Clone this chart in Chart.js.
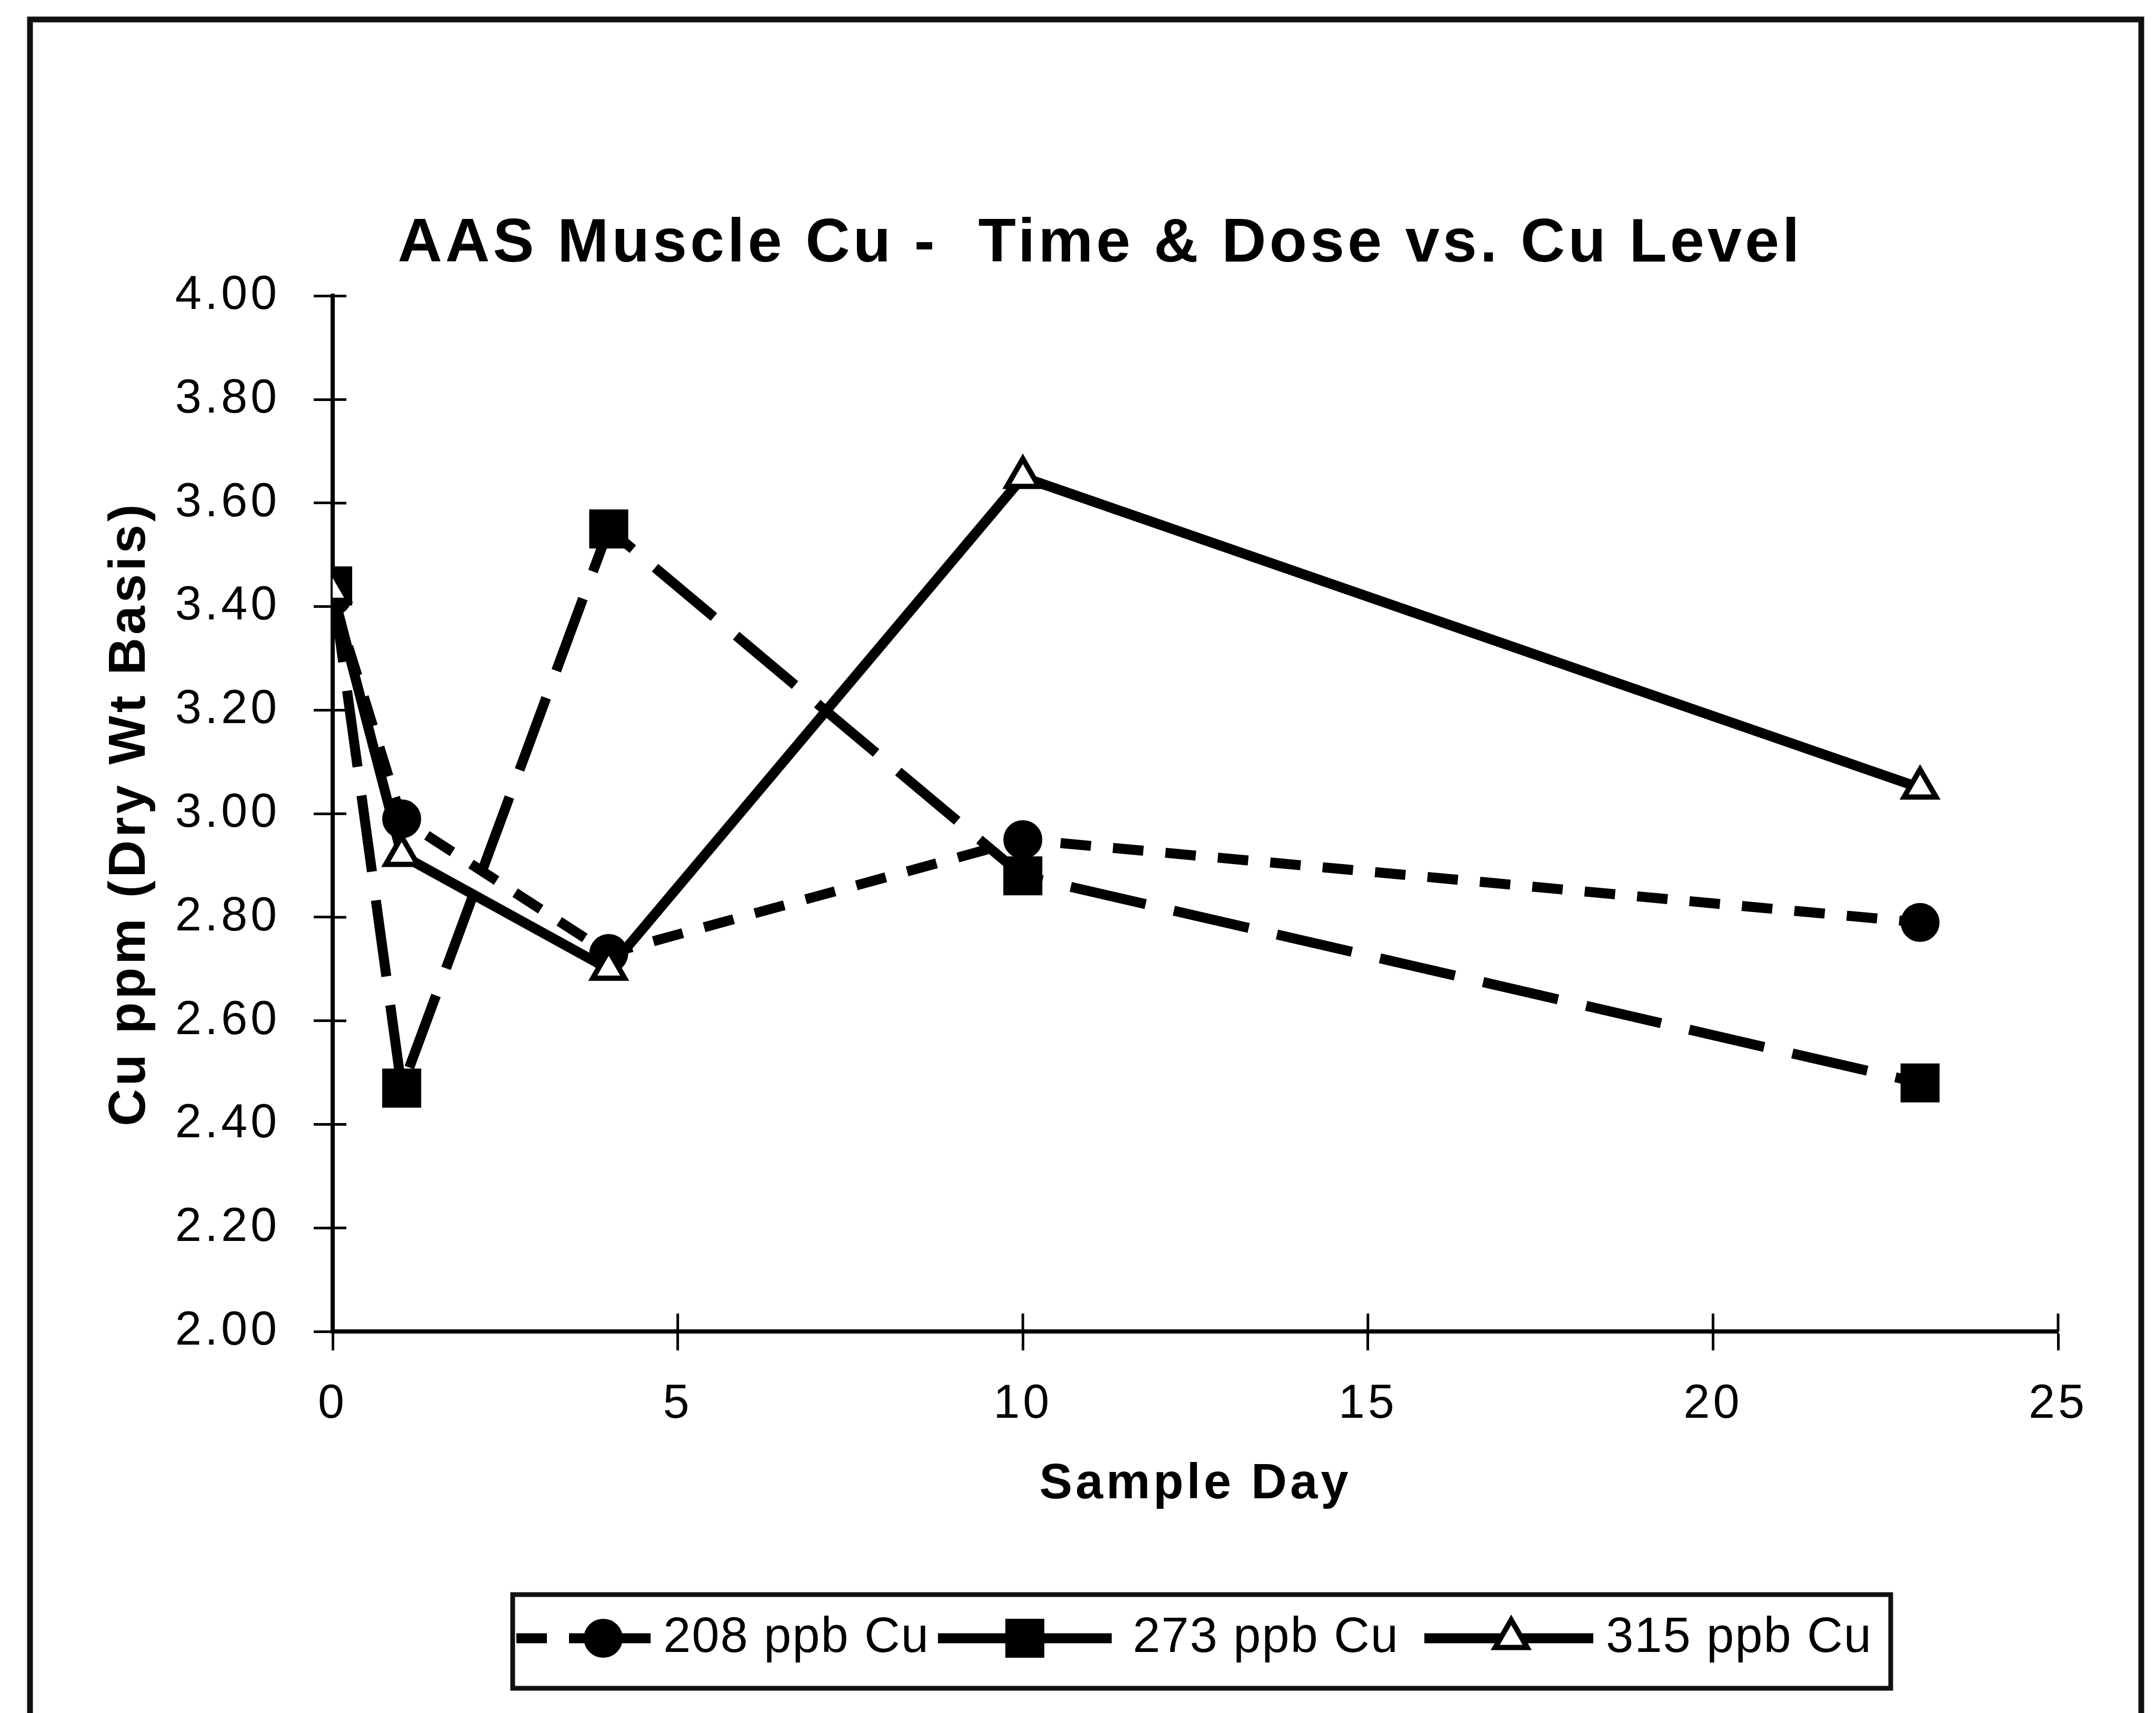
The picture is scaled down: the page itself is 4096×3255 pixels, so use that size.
<!DOCTYPE html>
<html>
<head>
<meta charset="utf-8">
<title>AAS Muscle Cu</title>
<script src="https://cdn.jsdelivr.net/npm/chart.js@4.4.1/dist/chart.umd.min.js"></script>
<style>
  html, body { margin: 0; padding: 0; background: #fff; }
  canvas { display: block; }
</style>
</head>
<body>
<canvas id="cuChart" width="4096" height="3255"></canvas>
<script>
// data
const sampleDays = [0, 1, 4, 10, 23];
const seriesNames = ["208 ppb Cu", "273 ppb Cu", "315 ppb Cu"];
const cu208 = [3.42, 2.99, 2.73, 2.95, 2.79];
const cu273 = [3.44, 2.47, 3.55, 2.88, 2.48];
const cu315 = [3.43, 2.92, 2.70, 3.65, 3.05];
const xTicks = [0, 5, 10, 15, 20, 25];
const yTicks = [2.0, 2.2, 2.4, 2.6, 2.8, 3.0, 3.2, 3.4, 3.6, 3.8, 4.0];

const FONT = "'Liberation Sans', Arial, Helvetica, sans-serif";

function toPoints(values) {
  return sampleDays.map((d, i) => ({ x: d, y: values[i] }));
}

// wider letter spacing, like the typeset original
const spacing = {
  id: "spacing",
  beforeUpdate(chart) { chart.ctx.letterSpacing = "6px"; },
  beforeDraw(chart) { chart.ctx.letterSpacing = "6px"; }
};

// page frame around the whole figure
const frame = {
  id: "frame",
  beforeDraw(chart) {
    const ctx = chart.ctx;
    ctx.save();
    ctx.fillStyle = "#fff";
    ctx.fillRect(0, 0, chart.width, chart.height);
    ctx.strokeStyle = "#111";
    ctx.lineWidth = 11;
    ctx.strokeRect(57, 37, 4011, 3400);
    ctx.restore();
  }
};

// tick marks cross the axis lines, so add the inner half
const innerTicks = {
  id: "innerTicks",
  beforeDatasetsDraw(chart) {
    const { ctx, chartArea, scales } = chart;
    ctx.save();
    ctx.strokeStyle = "#000";
    ctx.lineWidth = 5;
    ctx.beginPath();
    scales.y.ticks.forEach((t) => {
      const py = scales.y.getPixelForValue(t.value);
      ctx.moveTo(chartArea.left, py);
      ctx.lineTo(chartArea.left + 26, py);
    });
    scales.x.ticks.forEach((t) => {
      const px = scales.x.getPixelForValue(t.value);
      ctx.moveTo(px, chartArea.bottom);
      ctx.lineTo(px, chartArea.bottom - 34);
    });
    ctx.stroke();
    ctx.restore();
  }
};

// boxed legend: line sample + marker, then label
const boxLegend = {
  id: "boxLegend",
  afterDraw(chart) {
    const ctx = chart.ctx;
    const box = { left: 974, top: 3030, right: 3592, bottom: 3208 };
    const midY = (box.top + box.bottom) / 2 - 6;
    const markerX = [1146, 1947, 2871];
    const textX = [1260, 2152, 3051];
    const half = 165;
    ctx.save();
    ctx.lineWidth = 9;
    ctx.strokeStyle = "#111";
    ctx.strokeRect(box.left, box.top, box.right - box.left, box.bottom - box.top);
    ctx.beginPath();
    ctx.rect(box.left + 5, box.top + 5, box.right - box.left - 10, box.bottom - box.top - 10);
    ctx.clip();
    ctx.letterSpacing = "2px";
    ctx.font = "94px " + FONT;
    ctx.textBaseline = "middle";
    ctx.fillStyle = "#000";
    chart.data.datasets.forEach((ds, i) => {
      const mx = markerX[i];
      ctx.save();
      ctx.strokeStyle = "#000";
      ctx.lineWidth = ds.borderWidth;
      ctx.setLineDash(ds.borderDash || []);
      ctx.beginPath();
      ctx.moveTo(mx - half, midY);
      ctx.lineTo(Math.min(mx + half, textX[i] - 24), midY);
      ctx.stroke();
      ctx.setLineDash([]);
      ctx.fillStyle = ds.pointBackgroundColor;
      ctx.strokeStyle = ds.pointBorderColor;
      ctx.lineWidth = ds.pointBorderWidth;
      Chart.helpers.drawPoint(ctx, { pointStyle: ds.pointStyle, radius: ds.pointRadius, borderWidth: ds.pointBorderWidth }, mx, midY);
      ctx.restore();
      ctx.fillText(ds.label, textX[i], midY);
    });
    ctx.restore();
  }
};

const datasets = [
  {
    label: seriesNames[0],
    data: toPoints(cu208),
    borderColor: "#000",
    borderWidth: 19,
    borderDash: [58, 42],
    pointStyle: "circle",
    pointRadius: 36,
    pointBackgroundColor: "#000",
    pointBorderColor: "#000",
    pointBorderWidth: 2,
    order: 2
  },
  {
    label: seriesNames[1],
    data: toPoints(cu273),
    borderColor: "#000",
    borderWidth: 19,
    borderDash: [146, 55],
    pointStyle: "rect",
    pointRadius: 51,
    pointBackgroundColor: "#000",
    pointBorderColor: "#000",
    pointBorderWidth: 2,
    order: 1
  },
  {
    label: seriesNames[2],
    data: toPoints(cu315),
    borderColor: "#000",
    borderWidth: 19,
    borderDash: [],
    pointStyle: "triangle",
    pointRadius: 35,
    pointBackgroundColor: "#fff",
    pointBorderColor: "#000",
    pointBorderWidth: 10,
    order: 0
  }
];

const ctx = document.getElementById("cuChart").getContext("2d");
const chart = new Chart(ctx, {
  type: "line",
  data: { datasets: datasets },
  options: {
    responsive: false,
    animation: false,
    devicePixelRatio: 1,
    layout: { padding: { left: 270, right: 186, top: 0, bottom: 365 } },
    elements: {
      line: { tension: 0, fill: false, borderCapStyle: "butt", borderJoinStyle: "miter" }
    },
    plugins: {
      legend: { display: false },
      tooltip: { enabled: false },
      title: {
        display: true,
        text: "AAS Muscle Cu -  Time & Dose vs. Cu Level",
        color: "#000",
        font: { family: FONT, size: 117, weight: "bold" },
        padding: { top: 395, bottom: 27 }
      }
    },
    scales: {
      x: {
        type: "linear",
        min: 0,
        max: 25,
        afterBuildTicks: (scale) => { scale.ticks = xTicks.map((v) => ({ value: v })); },
        afterFit: (scale) => { scale.height = 360; },
        grid: { display: true, drawOnChartArea: false, drawTicks: true, tickLength: 36, tickWidth: 5, tickColor: "#000" },
        border: { display: true, color: "#000", width: 8 },
        ticks: { color: "#000", font: { family: FONT, size: 90 }, padding: 49, maxRotation: 0 },
        title: {
          display: true,
          text: "Sample Day",
          color: "#000",
          font: { family: FONT, size: 94, weight: "bold" },
          padding: { top: 0, bottom: 13 }
        }
      },
      y: {
        type: "linear",
        min: 2,
        max: 4,
        afterBuildTicks: (scale) => { scale.ticks = yTicks.map((v) => ({ value: v })); },
        afterFit: (scale) => { scale.width = 362; },
        grid: { display: true, drawOnChartArea: false, drawTicks: true, tickLength: 36, tickWidth: 5, tickColor: "#000" },
        border: { display: true, color: "#000", width: 8 },
        ticks: {
          color: "#000",
          font: { family: FONT, size: 90 },
          padding: 64,
          callback: (v) => Number(v).toFixed(2)
        },
        title: {
          display: true,
          text: "Cu ppm (Dry Wt Basis)",
          color: "#000",
          font: { family: FONT, size: 98, weight: "bold" },
          padding: { top: -81, bottom: 0 }
        }
      }
    }
  },
  plugins: [spacing, frame, innerTicks, boxLegend]
});
</script>
</body>
</html>
